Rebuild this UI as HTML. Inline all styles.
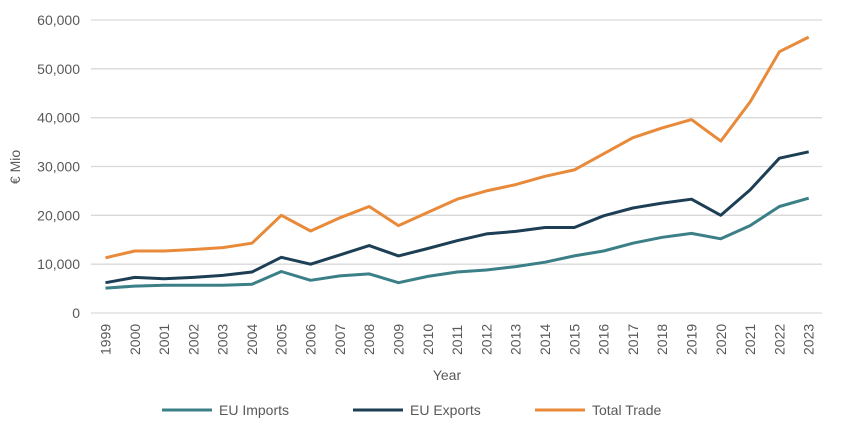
<!DOCTYPE html>
<html><head><meta charset="utf-8"><style>
body{margin:0;background:#fff;}
svg text{font-family:"Liberation Sans",sans-serif;fill:#595959;}
</style></head><body>
<svg id="c" width="850" height="438" xmlns="http://www.w3.org/2000/svg"></svg>
<script>
const s=document.getElementById('c');
let h='';
const y0=313,pk=293/60,x0=105.5,dx=(808.7-105.5)/24;
for(let i=0;i<=6;i++){const y=y0-i*10*pk;
h+=`<line x1="91" x2="822" y1="${y}" y2="${y}" stroke="#d9d9d9" stroke-width="1.3"/>`;
h+=`<text x="80" y="${y+5}" text-anchor="end" font-size="14">${i==0?'0':(i*10)+',000'}</text>`;}
for(let i=0;i<25;i++){const x=x0+i*dx;
h+=`<text transform="translate(${x+5},${355}) rotate(-90)" font-size="14">${1999+i}</text>`;}
const d={
'#3b8087':[5.1,5.5,5.7,5.7,5.7,5.9,8.5,6.7,7.6,8.0,6.2,7.5,8.4,8.8,9.5,10.4,11.7,12.7,14.3,15.5,16.3,15.2,17.9,21.8,23.5],
'#1d3f55':[6.2,7.3,7.0,7.3,7.7,8.4,11.4,10.0,11.9,13.8,11.7,13.2,14.8,16.2,16.7,17.5,17.5,19.9,21.5,22.5,23.3,20.0,25.2,31.7,33.0],
'#e88a3a':[11.3,12.7,12.7,13.0,13.4,14.3,20.0,16.8,19.5,21.8,17.9,20.6,23.3,25.0,26.3,28.0,29.3,32.6,35.9,37.9,39.6,35.2,43.2,53.5,56.5]};
for(const c in d){h+=`<polyline fill="none" stroke="${c}" stroke-width="3" stroke-linejoin="round" points="${d[c].map((v,i)=>(x0+i*dx).toFixed(1)+','+(y0-v*pk).toFixed(1)).join(' ')}"/>`;}
h+=`<text x="447" y="380" text-anchor="middle" font-size="14">Year</text>`;
h+=`<text transform="translate(20,167) rotate(-90)" text-anchor="middle" font-size="14">€ Mio</text>`;
[['#3b8087',162,'EU Imports'],['#1d3f55',353,'EU Exports'],['#e88a3a',535,'Total Trade']].forEach(([c,x,t])=>{
h+=`<line x1="${x}" x2="${x+50}" y1="410" y2="410" stroke="${c}" stroke-width="3"/><text x="${x+57}" y="415" font-size="14">${t}</text>`;});
s.innerHTML=h;
</script>
</body></html>
